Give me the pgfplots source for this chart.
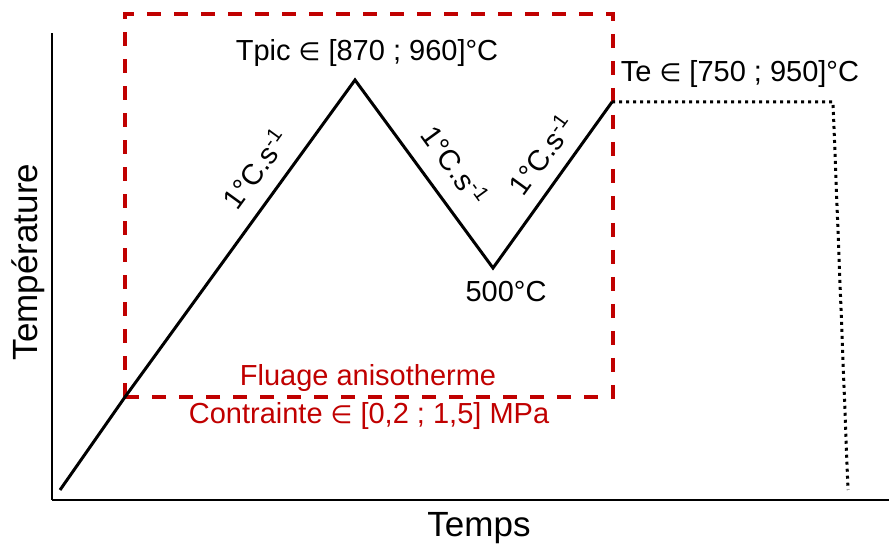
\documentclass[border=0pt]{standalone}
\usepackage{pgfplots}
\pgfplotsset{compat=1.18}
\usepackage{fontspec}
\setmainfont{Liberation Sans}
\newfontfamily\dejavu{DejaVu Sans}
\definecolor{darkred}{HTML}{C00000}
\newcommand{\el}{{\dejavu\fontsize{25}{30}\selectfont ∈}}
\newcommand{\rate}{1°C.s\textsuperscript{-1}}
\tikzset{lab/.style={font=\fontsize{29}{34}\selectfont, inner sep=0pt}}
\begin{document}
\begin{tikzpicture}
\path[use as bounding box] (0,0) rectangle (889pt,546pt);
\begin{axis}[at={(52pt,46pt)}, anchor=south west, scale only axis,
  width=837pt, height=467pt, xmin=52, xmax=889, ymin=46, ymax=513,
  axis x line*=bottom, axis y line*=left,
  axis line style={-, line width=2pt},
  xtick=\empty, ytick=\empty, clip=false]
\addplot[darkred, line width=4pt, dash pattern=on 14pt off 13pt, line cap=butt]
  coordinates {(125,149) (125,532) (613,532) (613,149) (125,149)};
\addplot[black, line width=3pt, line join=miter]
  coordinates {(60,56) (125,149) (355,466) (493,278) (612,444)};
\addplot[black, line width=3pt, dash pattern=on 3pt off 4pt]
  coordinates {(612,444) (833,444) (848,56)};
\node[lab] at (axis cs:367,493) {Tpic \el{} [870 ; 960]°C};
\node[lab] at (axis cs:740,472) {Te \el{} [750 ; 950]°C};
\node[lab] at (axis cs:506,254) {500°C};
\node[lab, rotate=54] at (axis cs:255,377) {\rate};
\node[lab, rotate=-54] at (axis cs:455,381) {\rate};
\node[lab, rotate=54] at (axis cs:541,391) {\rate};
\node[lab, text=darkred] at (axis cs:368,168) {Fluage anisotherme};
\node[lab, text=darkred] at (axis cs:369,130) {Contrainte \el{} [0,2 ; 1,5] MPa};
\node[rotate=90, font=\fontsize{35}{40}\selectfont, inner sep=0pt] at (axis cs:28,284) {Température};
\node[font=\fontsize{35}{40}\selectfont, inner sep=0pt] at (axis cs:479,18) {Temps};
\end{axis}
\end{tikzpicture}
\end{document}
